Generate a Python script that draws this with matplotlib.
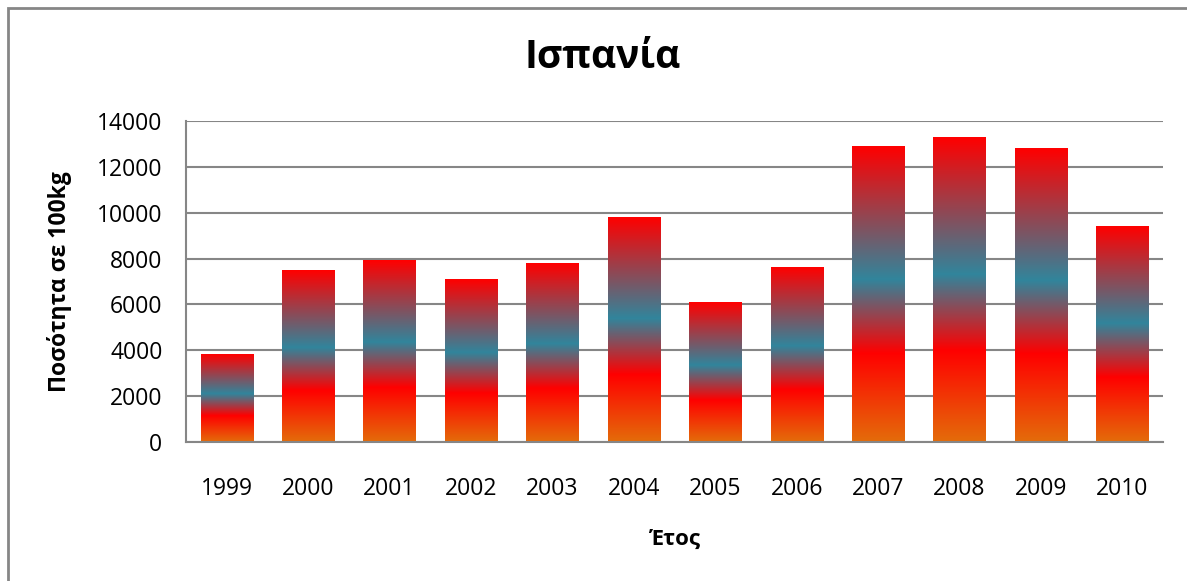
import numpy as np
import matplotlib.pyplot as plt
from matplotlib.colors import LinearSegmentedColormap
from matplotlib.patches import Rectangle

years = ['1999', '2000', '2001', '2002', '2003', '2004',
         '2005', '2006', '2007', '2008', '2009', '2010']
values = [3800, 7500, 7900, 7100, 7800, 9800,
          6100, 7600, 12900, 13300, 12800, 9400]

plt.rcParams['font.family'] = ['Open Sans', 'DejaVu Sans']

# bottom -> top: orange, red, teal, red
cmap = LinearSegmentedColormap.from_list(
    'bar', [(0.0, '#E46C0A'), (0.30, '#FF0000'), (0.55, '#31859C'), (1.0, '#FF0000')])
grad = np.linspace(0, 1, 256).reshape(-1, 1)

fig = plt.figure(figsize=(11.87, 5.81), dpi=100)
ax = fig.add_axes([186 / 1187, 1 - 442 / 581, 977 / 1187, 321 / 581])

x = np.arange(len(years))
bars = ax.bar(x, values, width=0.64, color='none', edgecolor='none')
for b in bars:
    x0, w, h = b.get_x(), b.get_width(), b.get_height()
    ax.imshow(grad, cmap=cmap, origin='lower', aspect='auto',
              extent=[x0, x0 + w, 0, h], zorder=2, interpolation='bilinear')

ax.set_xlim(-0.5, len(years) - 0.5)
ax.set_ylim(0, 14000)
ax.set_yticks(range(0, 14001, 2000))
ax.set_xticks(x)
ax.set_xticklabels(years)
ax.yaxis.grid(True, color='#868686', linewidth=1.5, zorder=0)
ax.set_axisbelow(True)
ax.tick_params(axis='both', length=0, labelsize=16.5, colors='black')
ax.tick_params(axis='x', pad=25)
ax.tick_params(axis='y', pad=17)
for side in ['top', 'right']:
    ax.spines[side].set_visible(False)
for side in ['left', 'bottom']:
    ax.spines[side].set_color('#868686')
    ax.spines[side].set_linewidth(1.5)

fig.text(603 / 1187, 1 - 58 / 581, 'Ισπανία', fontsize=28, fontweight='bold',
         ha='center', va='center')
ax.set_xlabel('Έτος', fontsize=16, fontweight='bold', labelpad=20)
ax.set_ylabel('Ποσότητα σε 100kg', fontsize=16.5, fontweight='bold', labelpad=18)

# chart area border
fig.patches.append(Rectangle((8 / 1187, -0.1), 1.2, 1 - 8 / 581 + 0.1,
                             transform=fig.transFigure, fill=False,
                             edgecolor='#868686', linewidth=2))

fig.savefig('out.png', dpi=100)
